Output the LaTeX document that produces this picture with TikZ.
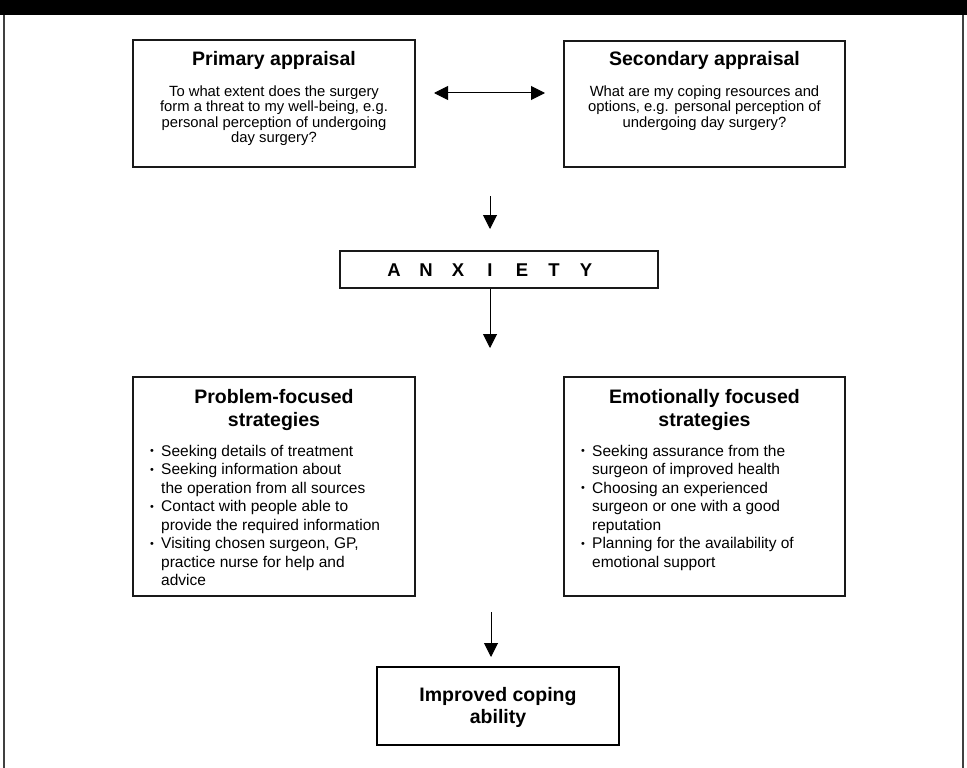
\documentclass[tikz,border=0pt]{standalone}
\usepackage{fontspec}
\setmainfont{Liberation Sans}
\usepackage{graphicx}
\usetikzlibrary{arrows.meta}
\newcommand{\titlefont}{\fontsize{19.5}{23}\selectfont\bfseries}
\newcommand{\topbody}{\fontsize{14.8}{15.5}\selectfont}
\newcommand{\lowbody}{\fontsize{15.5}{18.5}\selectfont}
\newcommand{\bulletmark}{\makebox[11pt][l]{\raisebox{1.2pt}{\scalebox{0.7}{•}}}}
\newcommand{\indentmark}{\hspace*{11pt}}
\begin{document}
\begin{tikzpicture}[x=1pt,y=-1pt,
  boxstyle/.style={draw=black!90, line width=1.2pt, inner sep=0pt},
  txt/.style={inner sep=0pt, anchor=base},
  arr/.style={line width=1pt, -{Triangle[length=14pt,width=14pt]}},
  darr/.style={line width=1pt, {Triangle[length=14pt,width=14pt]}-{Triangle[length=14pt,width=14pt]}},
  frame/.style={draw=black!75, line width=1.6pt}]
\useasboundingbox (0,0) rectangle (967,768);
% frame
\fill[black] (0,0) rectangle (967,15);
\coordinate (fl1) at (4,15);
\coordinate (fl2) at (4,768);
\coordinate (fr1) at (963,15);
\coordinate (fr2) at (963,768);
\draw[frame] (fl1) -- (fl2);
\draw[frame] (fr1) -- (fr2);
% top boxes
\node[boxstyle, minimum width=282, minimum height=127] (prim) at (274,103.5) {};
\node[txt] (primt) at (274,66) {\titlefont Primary appraisal};
\node[txt] (primb) at (274,96) {\parbox[t]{270pt}{\centering\topbody To what extent does the surgery\\ form a threat to my well-being, e.g.\\ personal perception of undergoing\\ day surgery?}};
\node[boxstyle, minimum width=281, minimum height=126] (sec) at (704.5,104) {};
\node[txt] (sect) at (704.5,66) {\titlefont Secondary appraisal};
\node[txt] (secb) at (704.5,96) {\parbox[t]{270pt}{\centering\topbody What are my coping resources and\\ options, e.g. personal perception of\\ undergoing day surgery?}};
% double arrow
\coordinate (dl) at (434,93);
\coordinate (dr) at (545,93);
\draw[darr] (dl) -- (dr);
% arrow to anxiety
\coordinate (a1s) at (490,196);
\coordinate (a1e) at (490,229);
\draw[arr] (a1s) -- (a1e);
% anxiety
\node[boxstyle, minimum width=318, minimum height=37] (anx) at (499,269.5) {};
\node[txt] (anxt) at (490,276.5) {\fontsize{18.5}{18.5}\selectfont\bfseries
  \makebox[32pt]{A}\makebox[32pt]{N}\makebox[32pt]{X}\makebox[32pt]{I}\makebox[32pt]{E}\makebox[32pt]{T}\makebox[32pt]{Y}};
\coordinate (a2e) at (490,348);
\draw[arr] (anx.south -| a2e) -- (a2e);
% lower boxes
\node[boxstyle, minimum width=282, minimum height=219] (prob) at (274,486.5) {};
\node[txt] (probt) at (274,403) {\parbox[t]{270pt}{\centering\titlefont Problem-focused\\ strategies}};
\node[txt, anchor=base west] (probb) at (150,456) {\parbox[t]{260pt}{\raggedright\lowbody
  \bulletmark Seeking details of treatment\\
  \bulletmark Seeking information about\\
  \indentmark the operation from all sources\\
  \bulletmark Contact with people able to\\
  \indentmark provide the required information\\
  \bulletmark Visiting chosen surgeon, GP,\\
  \indentmark practice nurse for help and\\
  \indentmark advice}};
\node[boxstyle, minimum width=281, minimum height=219] (emo) at (704.5,486.5) {};
\node[txt] (emot) at (704.5,403) {\parbox[t]{270pt}{\centering\titlefont Emotionally focused\\ strategies}};
\node[txt, anchor=base west] (emob) at (581,456) {\parbox[t]{260pt}{\raggedright\lowbody
  \bulletmark Seeking assurance from the\\
  \indentmark surgeon of improved health\\
  \bulletmark Choosing an experienced\\
  \indentmark surgeon or one with a good\\
  \indentmark reputation\\
  \bulletmark Planning for the availability of\\
  \indentmark emotional support}};
% arrow to improved
\coordinate (a3s) at (491,612);
\coordinate (a3e) at (491,657);
\draw[arr] (a3s) -- (a3e);
\node[draw=black, line width=2pt, inner sep=0pt, minimum width=242, minimum height=78] (imp) at (498,706) {};
\node[txt] (impt) at (498,701) {\parbox[t]{230pt}{\centering\fontsize{19.5}{22}\selectfont\bfseries Improved coping\\ ability}};
\end{tikzpicture}
\end{document}
